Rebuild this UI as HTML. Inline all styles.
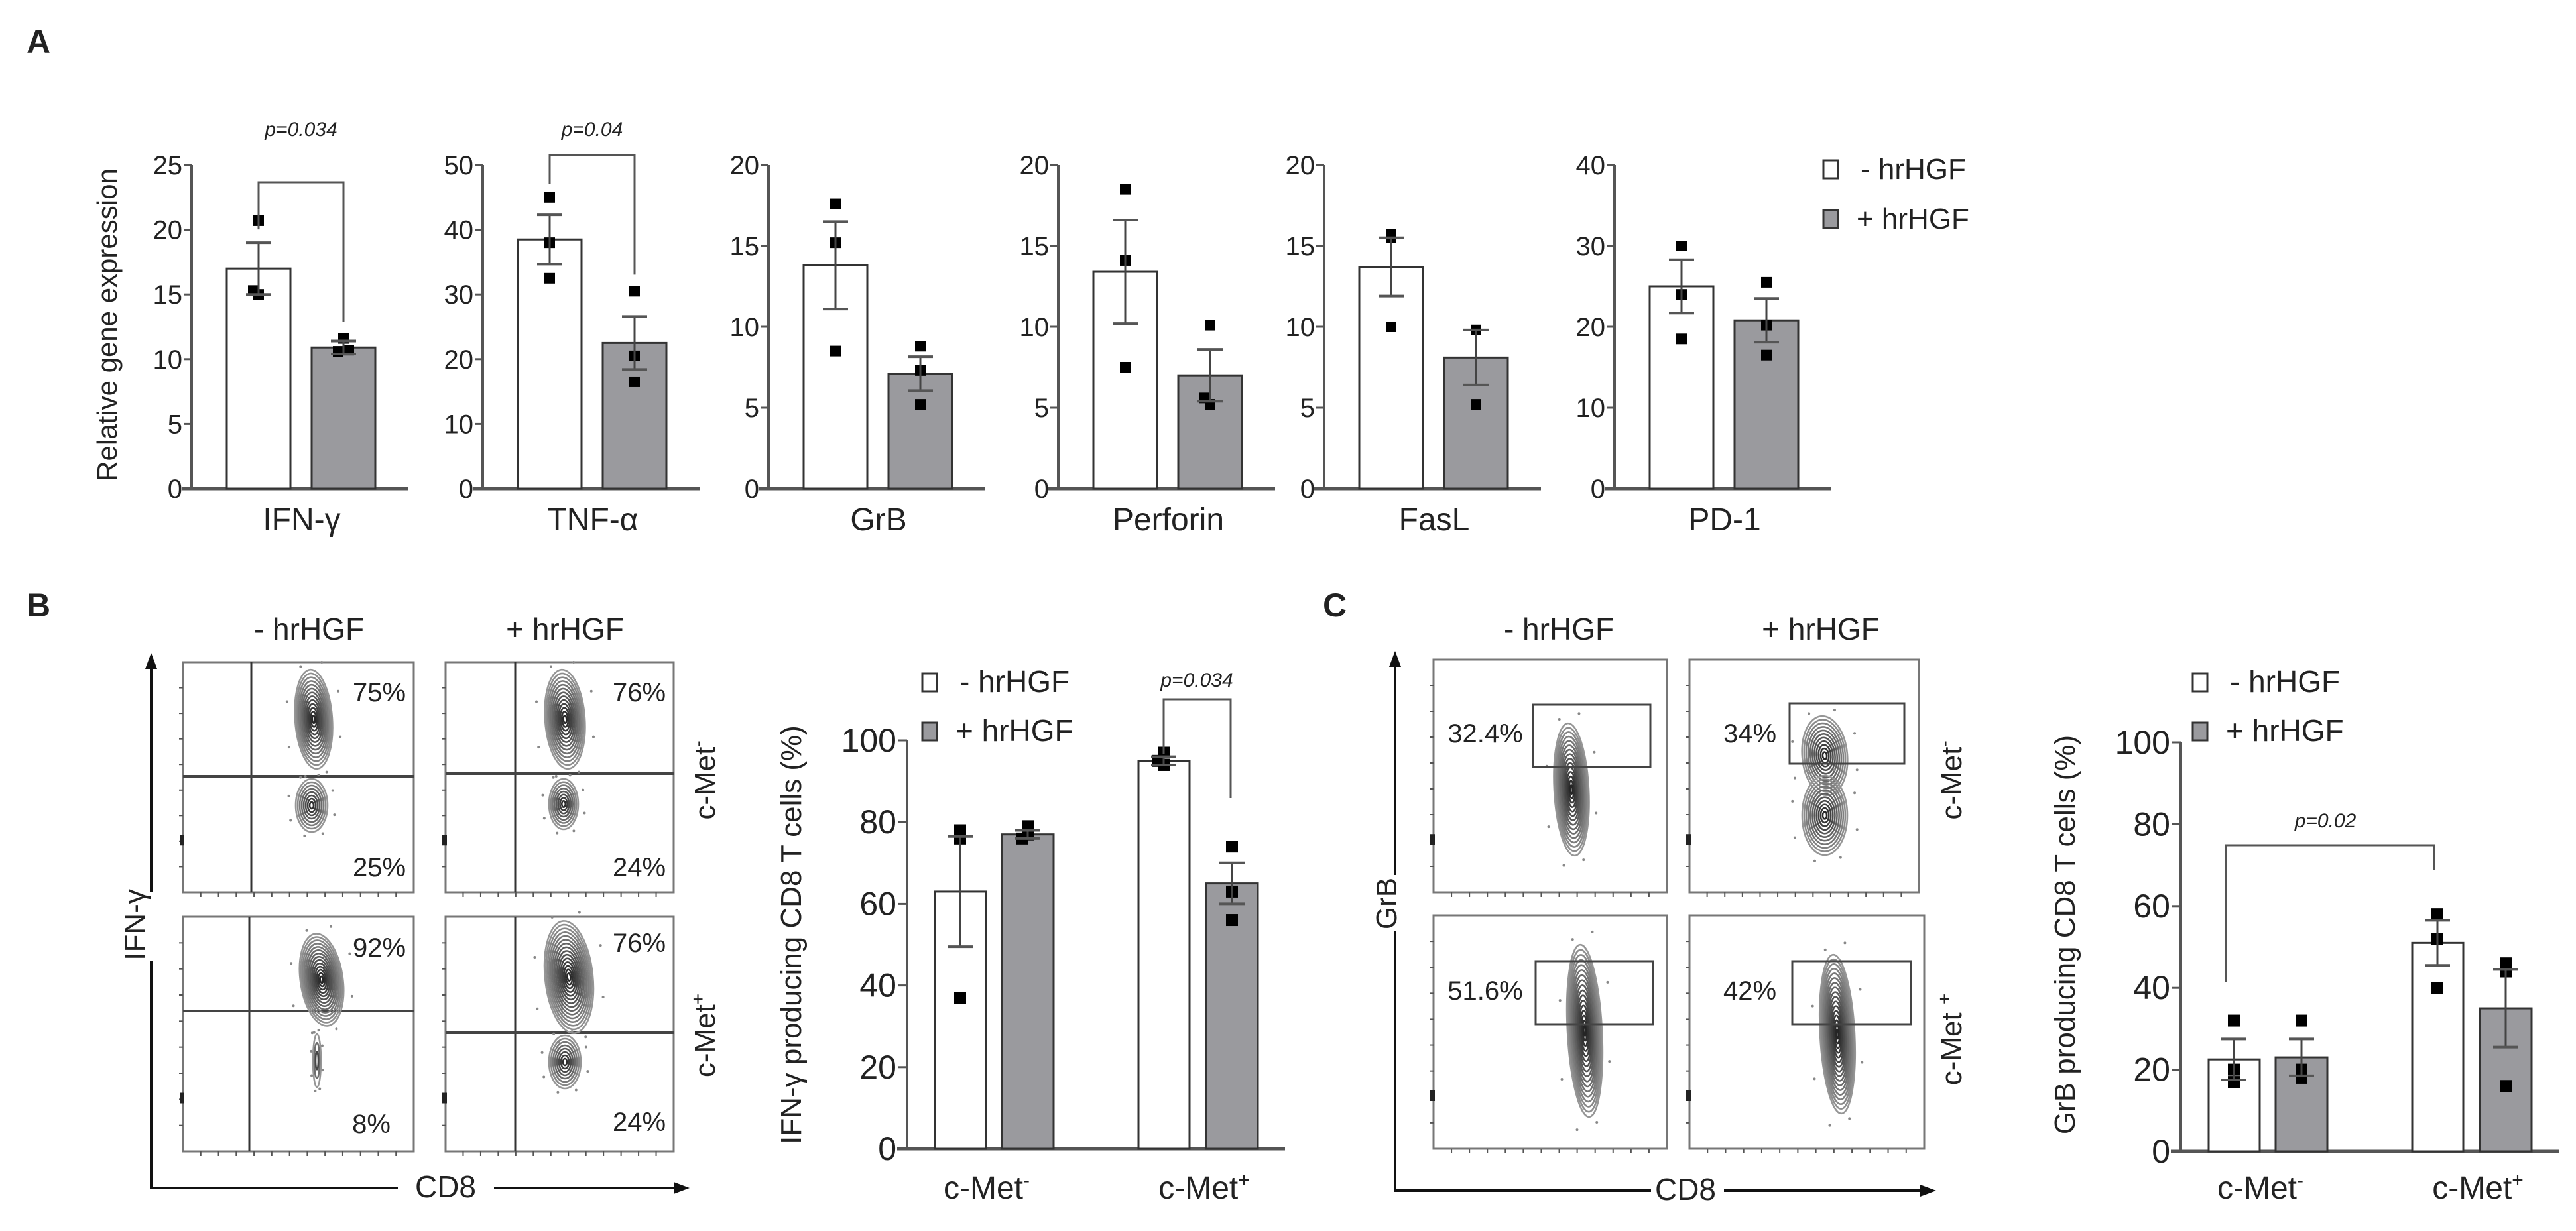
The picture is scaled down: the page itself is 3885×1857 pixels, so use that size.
<!DOCTYPE html>
<html><head><meta charset="utf-8">
<style>
html,body{margin:0;padding:0;background:#fff;}
svg{display:block;}
text{font-family:"Liberation Sans Narrow","Liberation Sans",sans-serif;fill:#222;}
.wide{font-family:"Liberation Sans","DejaVu Sans",sans-serif;}
</style></head>
<body>
<svg id="fig" xmlns="http://www.w3.org/2000/svg" width="3885" height="1857" viewBox="0 0 3885 1857">
<rect x="0" y="0" width="3885" height="1857" fill="#fff"/>
<text x="40" y="80" font-size="50" font-weight="bold" class="wide">A</text>
<text x="40" y="930" font-size="50" font-weight="bold" class="wide">B</text>
<text x="1995" y="930" font-size="50" font-weight="bold" class="wide">C</text>
<text class="wide" transform="translate(176,490) rotate(-90)" text-anchor="middle" font-size="42">Relative gene expression</text>
<g>
<rect x="2750" y="242" width="22" height="27" fill="#fff" stroke="#333" stroke-width="3"/>
<text x="2806" y="270" font-size="44">- hrHGF</text>
<rect x="2750" y="317" width="22" height="27" fill="#9a9a9e" stroke="#333" stroke-width="3"/>
<text x="2800" y="345" font-size="44">+ hrHGF</text>
</g>
</svg>
<script>
// ---------- Panel A data ----------
const geneNames = ['IFN-γ','TNF-α','GrB','Perforin','FasL','PD-1'];
const geneYMax = [25,50,20,20,20,40];
const geneYStep = [5,10,5,5,5,10];
const meanMinusA = [17,38.5,13.8,13.4,13.7,25];
const meanPlusA = [10.9,22.5,7.1,7,8.1,20.8];
const semMinusA = [2,3.8,2.7,3.2,1.8,3.3];
const semPlusA = [0.5,4.1,1.05,1.6,1.7,2.7];
const ptsMinusA = [[20.7,15.3,15.0],[45,38,32.5],[17.6,15.2,8.5],[18.5,14.1,7.5],[15.7,15.5,10],[30,24,18.5]];
const ptsPlusA = [[11.6,10.6,10.7],[30.5,20.5,16.5],[8.8,7.3,5.2],[10.1,5.6,5.2],[9.8,9.8,5.2],[25.5,20.2,16.5]];
const pLabelsA = ['p=0.034','p=0.04'];
// ---------- Panel B data ----------
const groupsB = ['c-Met','c-Met'];
const meanMinusB = [63,95];
const meanPlusB = [77,65];
const semMinusB = [13.5,1];
const semPlusB = [1,5];
const ptsMinusB = [[78,76,37],[97,95,94]];
const ptsPlusB = [[79,76,77],[74,63,56]];
// ---------- Panel C data ----------
const meanMinusC = [22.5,51];
const meanPlusC = [23,35];
const semMinusC = [5,5.5];
const semPlusC = [4.5,9.5];
const ptsMinusC = [[32,20,17],[58,52,40]];
const ptsPlusC = [[32,20,18],[46,44,16]];
const yTicksBC = [0,20,40,60,80,100];
const flowPctB = ['75%','25%','76%','24%','92%','8%','76%','24%'];
const flowPctC = ['32.4%','34%','51.6%','42%'];

const NS='http://www.w3.org/2000/svg';
const svg=document.getElementById('fig');
function mk(tag,attrs,parent){const e=document.createElementNS(NS,tag);for(const k in attrs)e.setAttribute(k,attrs[k]);(parent||svg).appendChild(e);return e;}
const GREY='#9a9a9e';

function errBar(g,x,yScale,m,s,capW){
  const l=mk('line',{x1:x,x2:x,y1:yScale(m-s),y2:yScale(m+s),stroke:'#444','stroke-width':3},g);
  
  
  [m-s,m+s].forEach(v=>{
    const c=mk('line',{x1:x-capW/2,x2:x+capW/2,y1:yScale(v),y2:yScale(v),stroke:'#555','stroke-width':4},g);
    
    
  });
}
function points(g,x,yScale,arr,sz){
  const offs=[0,-8,8];
  arr.forEach((v,i)=>{
    const r=mk('rect',{x:x-sz/2+(arr.length>2&&Math.abs(arr[i]-arr[(i+1)%3])<1.5?offs[i]:0),y:yScale(v)-sz/2,width:sz,height:sz,fill:'#000'},g);
    
    
  });
}
function bar(g,x,w,yScale,v,fill,name){
  const r=mk('rect',{x:x,y:yScale(v),width:w,height:yScale(0)-yScale(v),fill:fill,stroke:'#333','stroke-width':3},g);
  
  
}

// ---------- Panel A ----------
const axisXA=[289,728,1159,1596,1997,2435];
const y0A=737, yTopA=249;
geneNames.forEach((name,i)=>{
  const ax=axisXA[i];
  const g=mk('g',{});
  
  
  const ys=v=>y0A-(v/geneYMax[i])*(y0A-yTopA);
  let al=mk('line',{x1:ax,x2:ax,y1:yTopA,y2:y0A,stroke:'#555','stroke-width':4},g);
  
  
  let bl=mk('line',{x1:ax-15,x2:ax+327,y1:y0A,y2:y0A,stroke:'#555','stroke-width':5},g);
  
  
  for(let v=0;v<=geneYMax[i];v+=geneYStep[i]){
    const t=mk('line',{x1:ax-12,x2:ax,y1:ys(v),y2:ys(v),stroke:'#555','stroke-width':3},g);
    
    
    const tx=mk('text',{x:ax-14,y:ys(v)+14,'text-anchor':'end','font-size':40,fill:'#333'},g);
    
    
    tx.textContent=v;
  }
  bar(g,ax+53,96,ys,meanMinusA[i],'#fff','bar-minus-hrhgf');
  bar(g,ax+181,96,ys,meanPlusA[i],GREY,'bar-plus-hrhgf');
  points(g,ax+101,ys,ptsMinusA[i],16);
  points(g,ax+229,ys,ptsPlusA[i],16);
  errBar(g,ax+101,ys,meanMinusA[i],semMinusA[i],38);
  errBar(g,ax+229,ys,meanPlusA[i],semPlusA[i],38);
  const lab=mk('text',{x:ax+166,y:800,'text-anchor':'middle','font-size':48},g);
  
  
  lab.textContent=name;
  if(i<2){
    const topY=i===0?275:234;
    const lx=ax+101, rx=ax+229;
    const leftEnd=i===0?ys(meanMinusA[i]+semMinusA[i])-20:ys(ptsMinusA[i][0])-20;
    const br=mk('path',{d:`M${lx},${leftEnd} V${topY} H${rx} V${ys(ptsPlusA[i][0])-25}`,fill:'none',stroke:'#555','stroke-width':3},g);
    
    
    const pt=mk('text',{x:(lx+rx)/2,y:205,'text-anchor':'middle','font-size':30,'font-style':'italic',fill:'#444'},g);
    
    
    pt.textContent=pLabelsA[i];
  }
});

// ---------- Flow plots ----------
function contour(g,cx,cy,rx,ry,n,rot){
  const m=Math.round(n*1.4);
  for(let k=0;k<m;k++){
    const f=1-k/m;
    const shade=Math.round(150-120*(k/m));
    const e=mk('ellipse',{cx:cx,cy:cy,rx:rx*f,ry:ry*f,fill:'none',stroke:`rgb(${shade},${shade},${shade})`,'stroke-width':2.6,transform:`rotate(${rot||0} ${cx} ${cy})`},g);
    
    
  }
  for(let k=0;k<8;k++){
    const a=k*0.785+0.3;
    const d=mk('circle',{cx:cx+Math.cos(a)*rx*1.5,cy:cy+Math.sin(a)*ry*1.2,r:2,fill:'#888'},g);
    
    
  }
}
function flowBox(g,x1,y1,x2,y2){
  const r=mk('rect',{x:x1,y:y1,width:x2-x1,height:y2-y1,fill:'none',stroke:'#777','stroke-width':3},g);
  
  
  for(let k=1;k<=8;k++){
    const ty=y1+(y2-y1)*k/9;
    const t=mk('line',{x1:x1-6,x2:x1,y1:ty,y2:ty,stroke:'#555','stroke-width':2},g);
    
    
  }
  for(let k=1;k<=12;k++){
    const tx=x1+(x2-x1)*k/13;
    const t=mk('line',{x1:tx,x2:tx,y1:y2,y2:y2+7,stroke:'#555','stroke-width':2},g);
    
    
  }
  const m1=mk('rect',{x:x1-5,y:y1+(y2-y1)*0.75,width:7,height:16,fill:'#222'},g);
  
  
}
function txt(g,x,y,s,size,anchor,name,extra){
  const t=mk('text',Object.assign({x:x,y:y,'font-size':size,'text-anchor':anchor||'start'},extra||{}),g);
  
  
  t.textContent=s;
  return t;
}
function rotLabel(g,x,y,html,size,name,cls){
  const t=mk('text',{transform:`translate(${x},${y}) rotate(-90)`,'text-anchor':'middle','font-size':size},g);
  if(cls)t.setAttribute('class',cls);
  
  
  t.innerHTML=html;
}
function arrowAxes(g,ax,yTop,yBot,xRight,gapY1,gapY2,gapX1,gapX2){
  const a=mk('path',{d:`M${ax},${yTop+20} V${gapY1} M${ax},${gapY2} V${yBot} H${gapX1} M${gapX2},${yBot} H${xRight-20}`,fill:'none',stroke:'#111','stroke-width':4},g);
  
  
  const h1=mk('path',{d:`M${ax-9},${yTop+24} L${ax},${yTop} L${ax+9},${yTop+24}Z`,fill:'#111'},g);
  
  
  const h2=mk('path',{d:`M${xRight-24},${yBot-9} L${xRight},${yBot} L${xRight-24},${yBot+9}Z`,fill:'#111'},g);
  
  
}

// Panel B flow
const gB=mk('g',{});


txt(gB,466,965,'- hrHGF',46,'middle','column-header-minus');
txt(gB,852,965,'+ hrHGF',46,'middle','column-header-plus');
arrowAxes(gB,228,985,1792,1040,1345,1450,600,745);
rotLabel(gB,218,1395,'IFN-γ',44,'flow-y-axis-label','wide');
txt(gB,672,1806,'CD8',46,'middle','flow-x-axis-label');
const boxesB=[[276,999,624,1346,379,1171],[672,999,1016,1346,777,1167],[276,1383,624,1737,376,1525],[672,1383,1016,1737,777,1558]];
boxesB.forEach(b=>{
  flowBox(gB,b[0],b[1],b[2],b[3]);
  const q1=mk('line',{x1:b[4],x2:b[4],y1:b[1],y2:b[3],stroke:'#333','stroke-width':3},gB);
  
  
  const q2=mk('line',{x1:b[0],x2:b[2],y1:b[5],y2:b[5],stroke:'#444','stroke-width':4},gB);
  
  
});
contour(gB,473,1085,28,75,9,-4);contour(gB,470,1215,24,40,6,0);
contour(gB,852,1085,30,75,9,-4);contour(gB,850,1213,22,38,6,0);
contour(gB,485,1478,32,70,10,-8);contour(gB,478,1600,6,40,2,0);
contour(gB,858,1474,36,85,11,-6);contour(gB,852,1602,24,40,6,0);
const pctPosB=[[572,1058],[572,1322],[964,1058],[964,1322],[572,1443],[560,1709],[964,1436],[964,1706]];
flowPctB.forEach((s,i)=>txt(gB,pctPosB[i][0],pctPosB[i][1],s,40,'middle','quadrant-percentage'));
rotLabel(gB,1078,1177,'c-Met<tspan dy="-16" font-size="28">-</tspan>',44,'row-label-cmet-neg','wide');
rotLabel(gB,1078,1562,'c-Met<tspan dy="-16" font-size="28">+</tspan>',44,'row-label-cmet-pos','wide');

// Panel C flow
const gC=mk('g',{});


txt(gC,2351,965,'- hrHGF',46,'middle','column-header-minus');
txt(gC,2746,965,'+ hrHGF',46,'middle','column-header-plus');
arrowAxes(gC,2104,982,1796,2920,1320,1405,2490,2600);
rotLabel(gC,2106,1363,'GrB',44,'flow-y-axis-label','wide');
txt(gC,2542,1810,'CD8',46,'middle','flow-x-axis-label');
const boxesC=[[2162,995,2514,1346],[2548,995,2894,1346],[2162,1381,2514,1733],[2548,1381,2902,1733]];
boxesC.forEach(b=>flowBox(gC,b[0],b[1],b[2],b[3]));
contour(gC,2370,1191,26,100,11,-3);
contour(gC,2752,1140,34,60,8,-5);contour(gC,2752,1230,34,60,8,0);
contour(gC,2390,1555,26,130,12,-3);
contour(gC,2771,1560,26,120,12,-3);
const gates=[[2312,1063,2489,1157],[2699,1061,2872,1152],[2316,1450,2493,1545],[2703,1450,2882,1545]];
gates.forEach(r=>{
  const e=mk('rect',{x:r[0],y:r[1],width:r[2]-r[0],height:r[3]-r[1],fill:'none',stroke:'#444','stroke-width':3},gC);
  
  
});
const pctPosC=[[2240,1120],[2639,1120],[2240,1508],[2639,1508]];
flowPctC.forEach((s,i)=>txt(gC,pctPosC[i][0],pctPosC[i][1],s,40,'middle','gate-percentage'));
rotLabel(gC,2958,1177,'c-Met<tspan dy="-16" font-size="28">-</tspan>',44,'row-label-cmet-neg','wide');
rotLabel(gC,2958,1568,'c-Met <tspan dy="-16" font-size="28">+</tspan>',44,'row-label-cmet-pos','wide');

// ---------- Bar charts B & C ----------
function groupChart(name,ax,y0,y100,means1,sems1,pts1,means2,sems2,pts2,ylab,legX){
  const g=mk('g',{});
  
  
  const ys=v=>y0-(v/100)*(y0-y100);
  const al=mk('line',{x1:ax,x2:ax,y1:y100,y2:y0,stroke:'#555','stroke-width':4},g);
  
  
  const bl=mk('line',{x1:ax-15,x2:ax+570,y1:y0,y2:y0,stroke:'#555','stroke-width':5},g);
  
  
  yTicksBC.forEach(v=>{
    const t=mk('line',{x1:ax-14,x2:ax,y1:ys(v),y2:ys(v),stroke:'#555','stroke-width':3},g);
    
    
    const tx=mk('text',{x:ax-16,y:ys(v)+17,'text-anchor':'end','font-size':50,fill:'#333'},g);
    
    
    tx.textContent=v;
  });
  const offs=[[42,143],[349,451]];
  for(let i=0;i<2;i++){
    bar(g,ax+offs[i][0],77,ys,means1[i],'#fff','bar-minus-hrhgf');
    bar(g,ax+offs[i][1],78,ys,means2[i],GREY,'bar-plus-hrhgf');
    points(g,ax+offs[i][0]+38,ys,pts1[i],18);
    points(g,ax+offs[i][1]+39,ys,pts2[i],18);
    errBar(g,ax+offs[i][0]+38,ys,means1[i],sems1[i],38);
    errBar(g,ax+offs[i][1]+39,ys,means2[i],sems2[i],38);
    const lab=mk('text',{x:ax+(i?448:120),y:1808,'text-anchor':'middle','font-size':48},g);
    
    
    lab.innerHTML=groupsB[i]+'<tspan dy="-18" font-size="30">'+(i?'+':'-')+'</tspan>';
  }
  rotLabel(g,ax-160,1410,ylab,44,'y-axis-title','wide');
  const s1=mk('rect',{x:legX,y:1016,width:22,height:27,fill:'#fff',stroke:'#333','stroke-width':3},g);
  
  
  txt(g,legX+56,1044,'- hrHGF',46,'start','legend-label-minus');
  const s2=mk('rect',{x:legX,y:1090,width:22,height:27,fill:GREY,stroke:'#333','stroke-width':3},g);
  
  
  txt(g,legX+50,1118,'+ hrHGF',46,'start','legend-label-plus');
  return {g:g,ys:ys};
}
const cB=groupChart('chart-ifn-producing',1368,1733,1117,meanMinusB,semMinusB,ptsMinusB,meanPlusB,semPlusB,ptsPlusB,'IFN-γ producing CD8 T cells (%)',1391);
const brB=mk('path',{d:'M1755,1137 V1055 H1856 V1204',fill:'none',stroke:'#555','stroke-width':3},cB.g);


txt(cB.g,1805,1036,'p=0.034',30,'middle','p-value-label',{'font-style':'italic',fill:'#444'});

const cC=groupChart('chart-grb-producing',3289,1737,1120,meanMinusC,semMinusC,ptsMinusC,meanPlusC,semPlusC,ptsPlusC,'GrB producing CD8 T cells (%)',3307);
const brC=mk('path',{d:'M3357,1481 V1275 H3671 V1312',fill:'none',stroke:'#555','stroke-width':3},cC.g);


txt(cC.g,3507,1248,'p=0.02',30,'middle','p-value-label',{'font-style':'italic',fill:'#444'});
</script>
</body></html>
